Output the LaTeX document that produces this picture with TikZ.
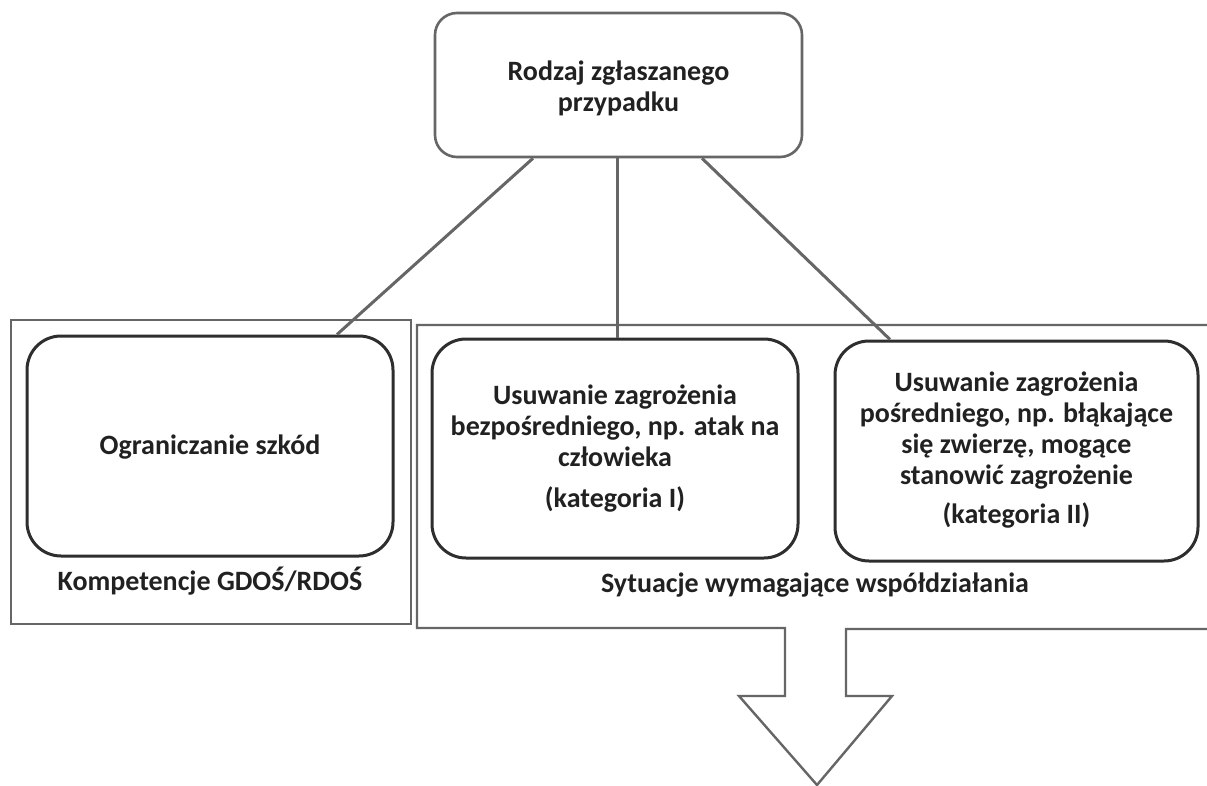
\documentclass[tikz,border=0pt]{standalone}
\usepackage{fontspec}
\setmainfont{Carlito}
\usetikzlibrary{calc}
\definecolor{linegray}{gray}{0.40}
\definecolor{boxdark}{gray}{0.18}
\definecolor{txt}{gray}{0.13}
\tikzset{
  rbox/.style={draw=boxdark, line width=3pt, rounded corners=34pt, inner sep=0pt},
  topbox/.style={draw=linegray, line width=2.6pt, rounded corners=22pt, inner sep=0pt},
  frame/.style={draw=linegray, line width=2.4pt},
  conn/.style={draw=linegray, line width=3pt},
  lbl/.style={font=\fontsize{28}{31}\selectfont\bfseries, text=txt, inner sep=0pt}
}
\begin{document}
\begin{tikzpicture}[x=1pt,y=-1pt]
\clip (0,0) rectangle (1207,786);
\fill[white] (0,0) rectangle (1207,786);
% containers
\node[frame, minimum width=400pt, minimum height=304pt, inner sep=0pt] (leftc) at (211,472) {};
\draw[frame, line join=miter] (1215,325) -- (417,325) -- (417,628) -- (785,628) -- (785,696)
  -- (739,696) -- (817,785) -- (892,696) -- (846,696) -- (846,629) -- (1215,629);
% boxes
\node[topbox, minimum width=367pt, minimum height=144pt] (top) at (618.5,85) {};
\node[lbl, align=center] (toptext) at (618.5,88) {Rodzaj zgłaszanego\\przypadku};
\node[rbox, minimum width=366pt, minimum height=220pt] (ogr) at (210,446) {};
\node[lbl] (ogrtext) at (210,447) {Ograniczanie szkód};
\node[rbox, minimum width=366pt, minimum height=219pt] (cat1) at (615,448.5) {};
\node[lbl, align=center] (cat1text) at (615,449) {Usuwanie zagrożenia\\bezpośredniego, np. atak na\\człowieka\\[10pt](kategoria I)};
\node[rbox, minimum width=363pt, minimum height=220pt] (cat2) at (1016.5,451) {};
\node[lbl, align=center] (cat2text) at (1016.5,450) {Usuwanie zagrożenia\\pośredniego, np. błąkające\\się zwierzę, mogące\\stanowić zagrożenie\\[8pt](kategoria II)};
% labels
\node[lbl] (komp) at (210,581) {Kompetencje GDOŚ/RDOŚ};
\node[lbl] (syt) at (815,585) {Sytuacje wymagające współdziałania};
% connectors
\draw[conn] ($(top.south)+(-85.5,0)$) -- ($(ogr.north)+(127,0)$);
\draw[conn] ($(top.south)+(-1.5,0)$) -- ($(cat1.north)+(2,0)$);
\draw[conn] ($(top.south)+(83.5,0)$) -- ($(cat2.north)+(-126.5,0)$);
\end{tikzpicture}
\end{document}
